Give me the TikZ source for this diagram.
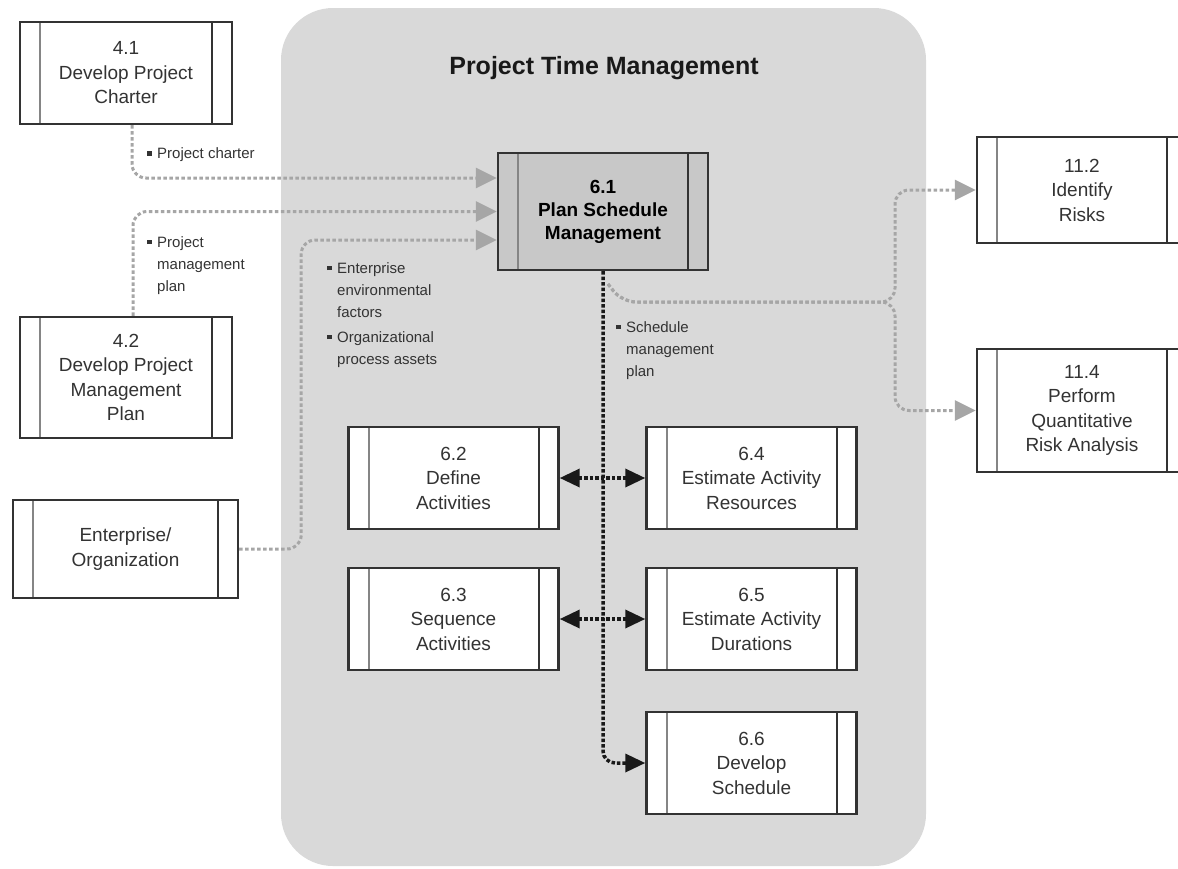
\documentclass[tikz,border=0pt]{standalone}
\usepackage{fontspec}
\setmainfont{Liberation Sans}
\usetikzlibrary{arrows.meta, positioning}

\definecolor{panelgray}{HTML}{D9D9D9}
\definecolor{flowgray}{HTML}{A6A6A6}
\definecolor{boxline}{HTML}{333333}
\definecolor{stripline}{HTML}{858585}
\definecolor{headgray}{HTML}{C8C8C8}

\newcommand{\sqb}{\makebox[10pt][l]{\rule[3pt]{4.5pt}{4.5pt}}}
\newcommand{\ind}{\hspace*{10pt}}

\tikzset{
  procbox/.style={draw=boxline, line width=2.4pt, fill=white,
    minimum width=210pt, minimum height=102pt, inner sep=0pt,
    align=center, text=black!80, font=\fontsize{19}{24.5}\selectfont,
    path picture={
      \draw[stripline, line width=2pt]
        ([xshift=20pt]path picture bounding box.north west) --
        ([xshift=20pt]path picture bounding box.south west);
      \draw[boxline, line width=2pt]
        ([xshift=-20pt]path picture bounding box.north east) --
        ([xshift=-20pt]path picture bounding box.south east);
    }},
  labeltext/.style={inner sep=0pt, align=left, text=black!80,
    font=\fontsize{15}{22}\selectfont},
  grayflow/.style={draw=flowgray, line width=3pt, dash pattern=on 3.5pt off 2.5pt,
    rounded corners=14pt, -{Triangle[length=21pt, width=20pt, fill=flowgray]}},
  blackflow/.style={draw=black!90, line width=3.5pt, dash pattern=on 3.5pt off 2pt,
    rounded corners=12pt},
  blacktip/.style={-{Triangle[length=20pt, width=18pt]}}
}

\begin{document}
\begin{tikzpicture}[x=1pt, y=-1pt]
  % Page size
  \useasboundingbox (0,0) rectangle (1178,868);
  \clip (0,0) rectangle (1178,868);

  % Grey panel and its title
  \fill[panelgray, rounded corners=52pt] (281,8) rectangle (926,866);
  \node[font=\bfseries\fontsize{25}{28}\selectfont, text=black!90] (title) at (604,68) {Project Time Management};

  % Processes outside the panel
  \node[procbox, minimum width=212pt] (charter) at (126,73) {4.1\\Develop Project\\Charter};
  \node[procbox, minimum width=212pt, minimum height=121pt] (pmplan) at (126,377.5) {4.2\\Develop Project\\Management\\Plan};
  \node[procbox, minimum width=225pt, minimum height=98pt] (enterprise) at (125.5,549) {Enterprise/\\Organization};
  \node[procbox, minimum height=106pt] (idrisk) at (1082,190) {11.2\\Identify\\Risks};
  \node[procbox, minimum height=123pt] (qrisk) at (1082,410.5) {11.4\\Perform\\Quantitative\\Risk Analysis};

  % Processes inside the panel
  \node[procbox, fill=headgray, minimum height=117pt, font=\bfseries\fontsize{19}{23}\selectfont, text=black] (psm) at (603,211.5) {6.1\\Plan Schedule\\Management};
  \node[procbox] (defact) at (453.5,478) {6.2\\Define\\Activities};
  \node[procbox] (seqact) at (453.5,619) {6.3\\Sequence\\Activities};
  \node[procbox] (estres) at (751.5,478) {6.4\\Estimate Activity\\Resources};
  \node[procbox] (estdur) at (751.5,619) {6.5\\Estimate Activity\\Durations};
  \node[procbox] (devsched) at (751.5,763) {6.6\\Develop\\Schedule};

  % Inputs to 6.1
  \draw[grayflow] ([xshift=6pt]charter.south) |- ([yshift=33.5pt]psm.west);
  \draw[grayflow] ([xshift=7pt]pmplan.north) |- (psm.west);
  \draw[grayflow] (enterprise.east) -- ++(62,0) |- ([yshift=-28.5pt]psm.west);

  % Outputs of 6.1
  \draw[blackflow, blacktip] (psm.south) |- (devsched.west);
  \foreach \a/\b in {defact/estres, seqact/estdur}
    \draw[blackflow, {Triangle[length=20pt, width=18pt]}-{Triangle[length=20pt, width=18pt]}] (\a.east) -- (\b.west);

  \coordinate (tap) at (608,284);
  \coordinate (split) at (895,302);
  \draw[grayflow] (tap) -- (622,302) -- (split) |- (idrisk.west);
  \draw[grayflow] (tap) -- (622,302) -- (split) |- (qrisk.west);

  % Labels
  \node[labeltext, anchor=west] (lcharter) at (147,155) {\sqb Project charter};
  \node[labeltext, anchor=north west] (lpmplan) at (147,236) {\sqb Project\\\ind management\\\ind plan};
  \node[labeltext, anchor=north west] (lenv) at (327,262) {\sqb Enterprise\\\ind environmental\\\ind factors};
  \node[labeltext, anchor=north west] (lopa) at (327,331) {\sqb Organizational\\\ind process assets};
  \node[labeltext, anchor=north west] (lsmp) at (616,321) {\sqb Schedule\\\ind management\\\ind plan};
\end{tikzpicture}
\end{document}
